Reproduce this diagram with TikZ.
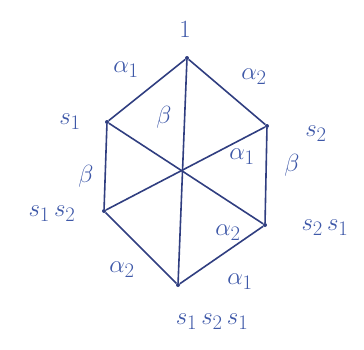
\documentclass[tikz,border=0pt]{standalone}
\usepackage{amsmath}
\usetikzlibrary{positioning}
\definecolor{ink}{RGB}{62,88,168}
\definecolor{pen}{RGB}{48,62,128}

\begin{document}
\begin{tikzpicture}[x=1bp,y=-1bp,
every node/.style={text=ink,font=\fontsize{32}{36}\selectfont},
dot/.style={circle,fill=pen,inner sep=0pt,minimum size=4bp},
edge/.style={draw=pen,line width=1.6bp,line join=round}]
\useasboundingbox (0,0) rectangle (364,350);
% chambers
\node[dot] (E) at (187,58) {};
\node[dot] (S1) at (107,122) {};
\node[dot] (S2) at (267,126) {};
\node[dot] (S12) at (104,211) {};
\node[dot] (S21) at (265,225) {};
\node[dot] (W0) at (178,285) {};
\draw[edge] (E)--(S1)--(S12)--(W0)--(S21)--(S2)--(E);
\draw[edge] (E)--(W0);
\draw[edge] (S1)--(S21);
\draw[edge] (S2)--(S12);
% vertex labels
\node (tE) at (185,30) {$1$};
\node (tS1) at (70,122) {$s_1$};
\node (tS2) at (316,134) {$s_2$};
\node (tS12) at (52,214) {$s_1\,s_2$};
\node (tS21) at (325,228) {$s_2\,s_1$};
\node (tW0) at (212,322) {$s_1\,s_2\,s_1$};
% edge labels
\node (a1) at (126,70) {$\alpha_1$};
\node (a2) at (254,77) {$\alpha_2$};
\node (b1) at (86,176) {$\beta$};
\node (b2) at (292,165) {$\beta$};
\node (a2l) at (122,270) {$\alpha_2$};
\node (a1r) at (240,282) {$\alpha_1$};
\node (b0) at (164,117) {$\beta$};
\node (a1c) at (242,157) {$\alpha_1$};
\node (a2c) at (228,233) {$\alpha_2$};
\end{tikzpicture}
\end{document}
